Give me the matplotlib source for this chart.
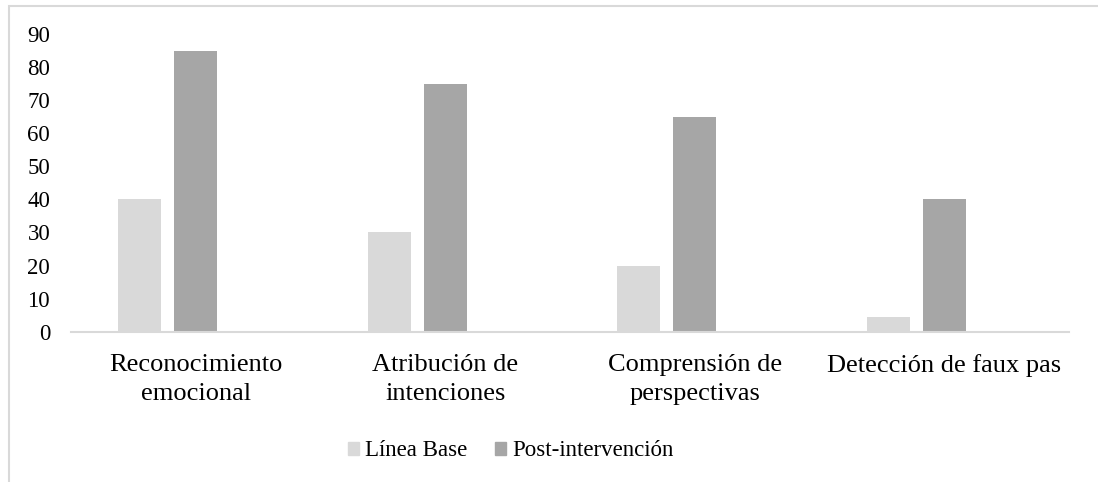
import matplotlib
matplotlib.use("Agg")
import matplotlib.pyplot as plt
from matplotlib.patches import Patch, Rectangle
import numpy as np

categorias = ["Reconocimiento\nemocional", "Atribución de\nintenciones",
              "Comprensión de\nperspectivas", "Detección de faux pas"]
linea_base = [40, 30, 20, 4.5]
post_intervencion = [85, 75, 65, 40]
series = ["Línea Base", "Post-intervención"]
colores = ["#D9D9D9", "#A6A6A6"]

plt.rcParams["font.family"] = ["Liberation Serif", "DejaVu Serif"]

fig = plt.figure(figsize=(10.98, 4.82), dpi=100)
W, H = 1098, 482
ax = fig.add_axes([71 / W, (H - 331.7) / H, (1069 - 71) / W, (331.7 - 34) / H])

# marco del grafico (recortado a la derecha y abajo)
fig.patches.append(Rectangle((9 / W, -0.1), 1.2, (H - 6) / H + 0.1,
                             transform=fig.transFigure, fill=False,
                             edgecolor="#D9D9D9", linewidth=1.5))

x = np.arange(len(categorias))
paso = 0.2245
ancho = 0.172
ax.bar(x - paso, linea_base, ancho, color=colores[0])
ax.bar(x, post_intervencion, ancho, color=colores[1])

ax.set_xlim(-0.5, len(categorias) - 0.5)
ax.set_ylim(0, 90)
ax.set_yticks(range(0, 91, 10))
ax.set_xticks(x)
ax.set_xticklabels(categorias, linespacing=1.4)
ax.tick_params(axis="both", length=0)
ax.tick_params(axis="y", labelsize=16.5, pad=15)
ax.tick_params(axis="x", labelsize=19, pad=16)
for s in ["top", "right", "left"]:
    ax.spines[s].set_visible(False)
ax.spines["bottom"].set_color("#D9D9D9")
ax.spines["bottom"].set_linewidth(1.5)

handles = [Patch(color=c, label=s) for c, s in zip(colores, series)]
fig.legend(handles=handles, loc="center left", bbox_to_anchor=(343 / W, (H - 451) / H),
           ncol=2, frameon=False, fontsize=16.5, handlelength=0.51, handleheight=0.51,
           handletextpad=0.25, columnspacing=1.2, borderpad=0.2, borderaxespad=0)

fig.savefig("out.png", dpi=100)
